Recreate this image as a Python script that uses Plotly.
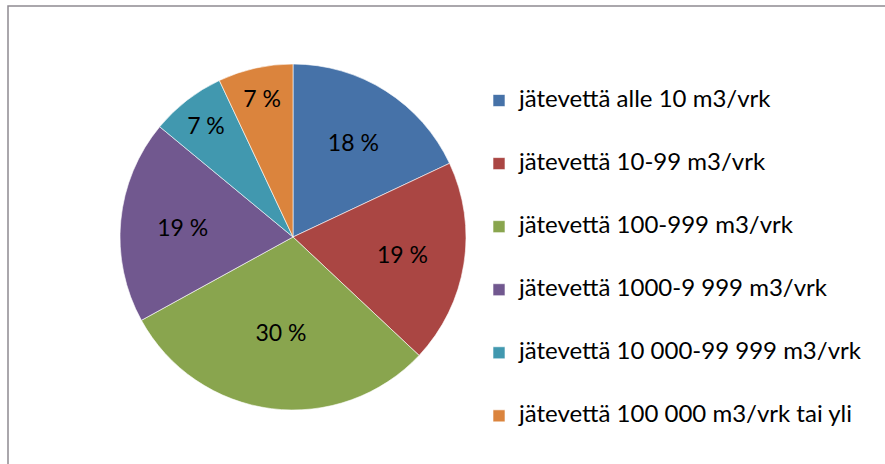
import plotly.graph_objects as go

categories = [
    "jätevettä alle 10 m3/vrk",
    "jätevettä 10-99 m3/vrk",
    "jätevettä 100-999 m3/vrk",
    "jätevettä 1000-9 999 m3/vrk",
    "jätevettä 10 000-99 999 m3/vrk",
    "jätevettä 100 000 m3/vrk tai yli",
]
shares = [18, 19, 30, 19, 7, 7]
colors = ["#4672A8", "#AA4643", "#89A54E", "#71588F", "#4198AF", "#DB843D"]

W, H = 885, 464

# blank lines above/below each legend label space the entries out like the original
legend_labels = ['<br><span style="font-size:24px">' + c + "</span><br>" for c in categories]

fig = go.Figure(
    go.Pie(
        labels=legend_labels,
        values=shares,
        text=[f"{v} %" for v in shares],
        textinfo="text",
        textposition="inside",
        insidetextorientation="horizontal",
        textfont={"size": 23, "color": "black", "family": "Lato"},
        marker={"colors": colors, "line": {"color": "white", "width": 0.6}},
        sort=False,
        direction="clockwise",
        rotation=0,
        hoverinfo="skip",
        domain={"x": [120 / W, 466 / W], "y": [1 - 410 / H, 1 - 64 / H]},
    )
)

fig.add_shape(
    type="rect", xref="paper", yref="paper",
    x0=8 / W, x1=1.05, y0=-0.05, y1=1 - 6 / H,
    line={"color": "#8f8a91", "width": 1.5},
)

fig.update_layout(
    width=W,
    height=H,
    margin={"l": 0, "r": 0, "t": 0, "b": 0},
    paper_bgcolor="white",
    font={"family": "Lato", "size": 18, "color": "black"},
    legend={
        "x": 479 / W,
        "y": 1 - 64 / H,
        "xanchor": "left",
        "yanchor": "top",
        "font": {"size": 15.4},
        "itemclick": False,
    },
)

# drop the page's default body margin so the figure sits at the window corner
fig.write_html(
    "out.html",
    config={"displayModeBar": False},
    post_script="document.body.style.margin = '0';",
)
